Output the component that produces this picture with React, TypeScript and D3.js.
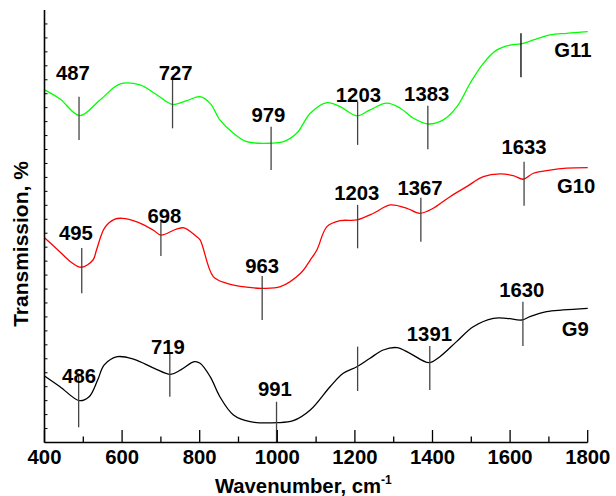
import React from "react";
import * as d3 from "d3";

// Spectra (wavenumber, cm-1 / transmission in arbitrary stacked units)
const waveG11 = [400, 440, 491, 543, 595, 646, 690, 730, 765, 801, 827, 852, 887, 921, 984, 1016, 1050, 1085, 1128, 1162, 1205, 1239, 1282, 1317, 1351, 1389, 1428, 1463, 1497, 1531, 1566, 1600, 1628, 1660, 1703, 1746, 1800];
const valG11 = [25.27, 24.62, 23.43, 24.55, 25.7, 25.63, 24.91, 24.23, 24.48, 24.79, 24.31, 23.12, 22.16, 21.56, 21.45, 21.56, 22.16, 23.6, 24.36, 24.07, 23.41, 23.84, 24.32, 23.96, 23.24, 22.83, 23.12, 24.07, 25.75, 27.18, 28.14, 28.49, 28.57, 28.85, 29.21, 29.33, 29.45];

const waveG10 = [400, 440, 468, 495, 525, 534, 555, 580, 600, 640, 680, 700, 740, 760, 790, 801, 835, 870, 921, 960, 1008, 1060, 1085, 1102, 1128, 1162, 1205, 1248, 1291, 1334, 1367, 1402, 1445, 1488, 1531, 1574, 1608, 1634, 1660, 1703, 1746, 1800];
const valG10 = [14.68, 13.66, 12.94, 12.56, 13.08, 13.8, 15.38, 15.99, 16.07, 15.8, 15.23, 14.87, 15.3, 15.38, 14.8, 14.52, 11.89, 11.41, 11.13, 11.05, 11.17, 12.13, 13.08, 13.8, 15.47, 15.9, 15.95, 16.43, 17.03, 16.79, 16.43, 16.79, 17.62, 18.34, 19.05, 19.25, 19.13, 18.87, 19.3, 19.53, 19.66, 19.7];

const waveG9 = [400, 440, 490, 515, 537, 554, 588, 631, 683, 725, 751, 786, 801, 827, 852, 887, 930, 1000, 1041, 1085, 1136, 1170, 1205, 1239, 1273, 1308, 1342, 1391, 1419, 1462, 1505, 1557, 1591, 1630, 1651, 1694, 1737, 1800];
const valG9 = [4.77, 4.0, 3.0, 3.28, 4.48, 5.56, 6.15, 5.96, 5.32, 4.89, 5.2, 5.79, 5.68, 4.72, 3.28, 1.97, 1.49, 1.42, 1.56, 2.33, 4.0, 4.96, 5.43, 6.04, 6.63, 6.8, 6.39, 5.72, 6.15, 7.23, 8.3, 8.9, 8.9, 8.78, 9.02, 9.38, 9.5, 9.62];

// Band markers: [line wavenumber, top, bottom, label, label wavenumber, label baseline]
const marksG11: [number, number, number, string, number, number][] = [
  [489, 24.79, 21.68, "487", 473, 25.99],
  [730, 25.99, 22.52, "727", 738, 25.99],
  [984, 22.64, 19.53, "979", 977, 23.0],
  [1207, 24.43, 21.33, "1203", 1209, 24.43],
  [1388, 24.14, 21.02, "1383", 1385, 24.48],
  [1628, 29.33, 26.18, "", 0, 0],
];
const marksG10: [number, number, number, string, number, number][] = [
  [496, 13.94, 10.7, "495", 481, 14.52],
  [700, 15.83, 13.37, "698", 709, 15.76],
  [961, 11.94, 8.78, "963", 961, 12.17],
  [1207, 17.03, 13.92, "1203", 1205, 17.38],
  [1370, 17.55, 14.39, "1367", 1368, 17.74],
  [1636, 20.13, 16.97, "1633", 1636, 20.68],
];
const marksG9: [number, number, number, string, number, number][] = [
  [488, 4.96, 1.09, "486", 489, 4.24],
  [723, 6.39, 3.28, "719", 718, 6.34],
  [998, 2.92, 0, "991", 994, 3.33],
  [1207, 6.87, 3.69, "", 0, 0],
  [1393, 6.92, 3.76, "1391", 1392, 7.3],
  [1633, 10.09, 6.92, "1630", 1630, 10.45],
];

const seriesNames = ["G11", "G10", "G9"];
const seriesColors = ["#00ff00", "#ff0000", "#000000"];
const seriesLabelWave = [1762, 1770, 1768];
const seriesLabelY = [27.66, 17.91, 7.63];

const xMajor = [400, 600, 800, 1000, 1200, 1400, 1600, 1800];
const xMinor = [500, 700, 900, 1100, 1300, 1500, 1700];

export default function App() {
  const width = 616;
  const height = 496;
  const margin = { top: 10, right: 28.3, bottom: 53.5, left: 44.5 };
  const font = "'Liberation Sans', Arial, sans-serif";
  const fs = 20.3;

  const x = d3.scaleLinear([400, 1800], [margin.left, width - margin.right]);
  const y = d3.scaleLinear([0, 31], [height - margin.bottom, margin.top]);
  const yTicks = d3.range(1, 31);

  const line = d3
    .line<[number, number]>()
    .x((d) => x(d[0]))
    .y((d) => y(d[1]))
    .curve(d3.curveCatmullRom.alpha(0.5));

  const series = [
    { w: waveG11, v: valG11, marks: marksG11 },
    { w: waveG10, v: valG10, marks: marksG10 },
    { w: waveG9, v: valG9, marks: marksG9 },
  ];

  const x0 = margin.left;
  const yBase = height - margin.bottom;

  return (
    <svg
      width={width}
      height={height}
      style={{ position: "absolute", left: 0, top: 0, background: "#fff" }}
      fontFamily={font}
      fontWeight="bold"
    >
      {/* curves */}
      {series.map((s, i) => (
        <path
          key={"c" + i}
          d={line(s.w.map((w, j) => [w, s.v[j]] as [number, number])) || ""}
          fill="none"
          stroke={seriesColors[i]}
          strokeWidth={1.3}
        />
      ))}

      {/* band markers */}
      {series.map((s, i) =>
        s.marks.map((m, j) => (
          <g key={"m" + i + "-" + j}>
            <line
              x1={x(m[0])}
              x2={x(m[0])}
              y1={y(m[1])}
              y2={y(m[2])}
              stroke={m[3] === "" && i === 0 ? "#000" : "#444"}
              strokeWidth={1.3}
            />
            {m[3] !== "" && (
              <text x={x(m[4])} y={y(m[5])} textAnchor="middle" fontSize={fs} fill="#000">
                {m[3]}
              </text>
            )}
          </g>
        ))
      )}

      {/* series names */}
      {seriesNames.map((n, i) => (
        <text key={n} x={x(seriesLabelWave[i])} y={y(seriesLabelY[i])} textAnchor="middle" fontSize={fs}>
          {n}
        </text>
      ))}

      {/* y axis */}
      <line x1={x0} x2={x0} y1={margin.top} y2={yBase} stroke="#000" strokeWidth={1.6} />
      {yTicks.map((t) => (
        <line key={"yt" + t} x1={x0} x2={x0 + 3} y1={y(t)} y2={y(t)} stroke="#000" strokeWidth={1} />
      ))}

      {/* x axis */}
      <line x1={x0} x2={x(1800)} y1={yBase} y2={yBase} stroke="#000" strokeWidth={1.6} />
      {xMajor.map((t) => (
        <g key={"xM" + t}>
          <line x1={x(t)} x2={x(t)} y1={yBase} y2={yBase - 12.5} stroke="#000" strokeWidth={1.3} />
          <text x={x(t)} y={463.5} textAnchor="middle" fontSize={fs}>
            {t}
          </text>
        </g>
      ))}
      {xMinor.map((t) => (
        <line key={"xm" + t} x1={x(t)} x2={x(t)} y1={yBase} y2={yBase - 6} stroke="#000" strokeWidth={1.3} />
      ))}

      {/* axis titles */}
      <text x={x(1000) + 26} y={493} textAnchor="middle" fontSize={fs}>
        Wavenumber, cm<tspan dy={-9} fontSize={12}>-1</tspan>
      </text>
      <text transform="translate(28.3,244) rotate(-90)" textAnchor="middle" fontSize={21}>
        Transmission, %
      </text>
    </svg>
  );
}
